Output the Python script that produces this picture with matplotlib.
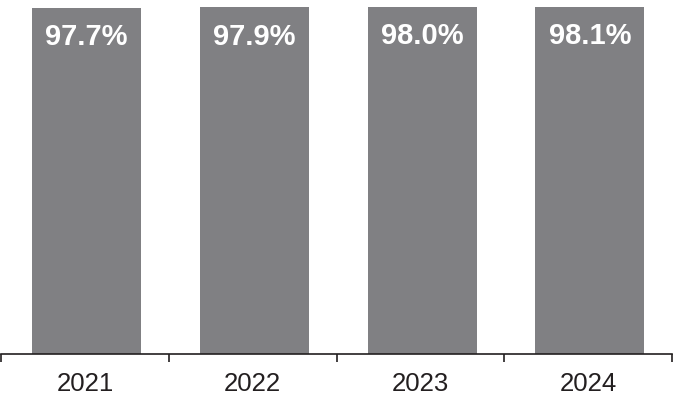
import matplotlib
matplotlib.use("Agg")
import matplotlib.pyplot as plt

# values
years = ["2021", "2022", "2023", "2024"]
rates = [97.7, 97.9, 98.0, 98.1]
labels = ["97.7%", "97.9%", "98.0%", "98.1%"]

bar_color = "#808083"
axis_color = "#231f20"

plt.rcParams["font.family"] = ["Liberation Sans", "DejaVu Sans"]

fig = plt.figure(figsize=(6.73, 4.01), dpi=100)
ax = fig.add_axes([1 / 673, 47 / 401, 671 / 673, 354 / 401])

x = range(len(years))
ax.bar([i + 0.01 for i in x], rates, width=0.65, color=bar_color, zorder=2)

# value labels inside the top of each bar
for i, (v, lab) in enumerate(zip(rates, labels)):
    ax.annotate(lab, (i + 0.01, v), xytext=(0, -21), textcoords="offset points",
                ha="center", va="center", color="white", fontsize=21,
                fontweight="bold")

ax.set_xlim(-0.5, len(years) - 0.5)
ax.set_ylim(0, 100)

# ticks sit on category boundaries, labels in the middle
ax.set_xticks([i - 0.5 for i in range(len(years) + 1)])
ax.set_xticklabels([])
ax.set_xticks(list(x), minor=True)
ax.set_xticklabels(years, minor=True, fontsize=18.5, color=axis_color)
ax.tick_params(axis="x", which="major", direction="out", length=6,
               width=1.2, color=axis_color)
ax.tick_params(axis="x", which="minor", length=0, pad=13)
ax.set_yticks([])

for side in ["top", "right", "left"]:
    ax.spines[side].set_visible(False)
ax.spines["bottom"].set_color(axis_color)
ax.spines["bottom"].set_linewidth(1.2)

fig.savefig("out.png", dpi=100)
